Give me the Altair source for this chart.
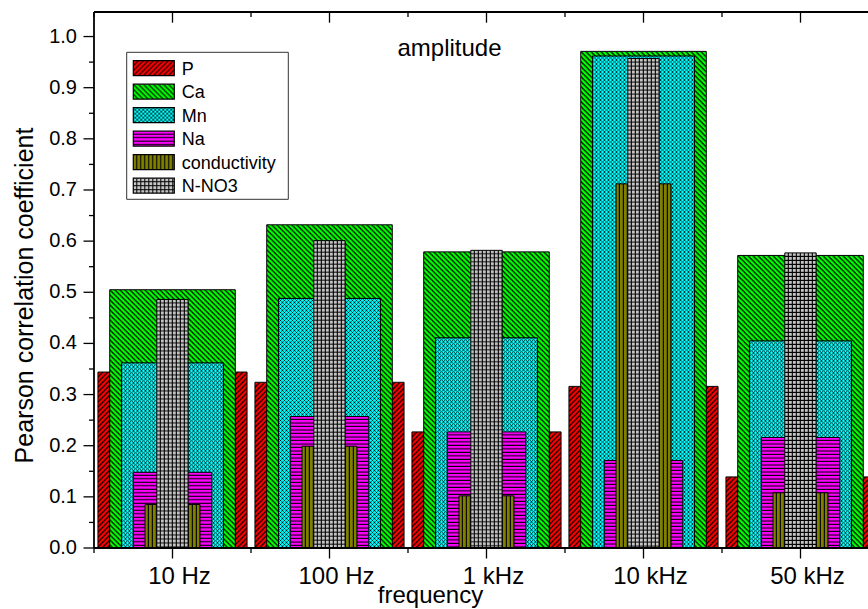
import base64
import altair as alt
import pandas as pd

# ---------------- data ----------------
categories = ["10 Hz", "100 Hz", "1 kHz", "10 kHz", "50 kHz"]
series = ["P", "Ca", "Mn", "Na", "conductivity", "N-NO3"]
P_vals = [0.344, 0.324, 0.227, 0.316, 0.139]
Ca_vals = [0.505, 0.632, 0.579, 0.971, 0.572]
Mn_vals = [0.362, 0.488, 0.411, 0.962, 0.405]
Na_vals = [0.148, 0.257, 0.227, 0.171, 0.216]
cond_vals = [0.085, 0.199, 0.102, 0.712, 0.108]
nno3_vals = [0.486, 0.601, 0.582, 0.957, 0.577]
y_ticks = [0.0, 0.1, 0.2, 0.3, 0.4, 0.5, 0.6, 0.7, 0.8, 0.9, 1.0]
y_tick_labels = ["0.0", "0.1", "0.2", "0.3", "0.4", "0.5", "0.6", "0.7", "0.8", "0.9", "1.0"]
y_minor = [0.05, 0.15, 0.25, 0.35, 0.45, 0.55, 0.65, 0.75, 0.85, 0.95]

values_by_series = dict(zip(series, [P_vals, Ca_vals, Mn_vals, Na_vals, cond_vals, nno3_vals]))
rows = []
for s in series:
    for c, v in zip(categories, values_by_series[s]):
        rows.append({"series": s, "freq": c, "value": v})
df = pd.DataFrame(rows)

# ---------------- layout / style ----------------
FONT = "Liberation Sans"
BLACK = "#000000"
W, H = 774, 536
XRANGE = 785
YMAX = 1.048

band_frac = {"P": 0.95, "Ca": 0.80, "Mn": 0.65, "Na": 0.50, "conductivity": 0.35, "N-NO3": 0.20}


def svg_uri(tile_w, tile_h, content):
    svg = (
        '<svg xmlns="http://www.w3.org/2000/svg" width="100%" height="100%">'
        f'<defs><pattern id="p" patternUnits="userSpaceOnUse" x="0" y="0" width="{tile_w}" height="{tile_h}">'
        f"{content}</pattern></defs>"
        '<rect x="0" y="0" width="100%" height="100%" fill="url(#p)"/></svg>'
    )
    return "data:image/svg+xml;base64," + base64.b64encode(svg.encode()).decode()


def hatch_slash(bg, a, lw):  # "/" lines
    return svg_uri(a, a,
        f'<rect width="{a}" height="{a}" fill="{bg}"/>'
        f'<path d="M-1,1 L1,-1 M0,{a} L{a},0 M{a-1},{a+1} L{a+1},{a-1}" stroke="#000" stroke-width="{lw}"/>')


def hatch_back(bg, a, lw):  # "\" lines
    return svg_uri(a, a,
        f'<rect width="{a}" height="{a}" fill="{bg}"/>'
        f'<path d="M-1,{a-1} L1,{a+1} M0,0 L{a},{a} M{a-1},-1 L{a+1},1" stroke="#000" stroke-width="{lw}"/>')


def hatch_cross(bg, a, lw):  # diagonal cross hatch
    return svg_uri(a, a,
        f'<rect width="{a}" height="{a}" fill="{bg}"/>'
        f'<path d="M-1,1 L1,-1 M0,{a} L{a},0 M{a-1},{a+1} L{a+1},{a-1} '
        f'M-1,{a-1} L1,{a+1} M0,0 L{a},{a} M{a-1},-1 L{a+1},1" stroke="#000" stroke-width="{lw}"/>')


def hatch_h(bg, a, lw):
    return svg_uri(8, a,
        f'<rect width="8" height="{a}" fill="{bg}"/><rect y="{a-lw}" width="8" height="{lw}" fill="#000"/>')


def hatch_v(bg, a, lw):
    return svg_uri(a, 8,
        f'<rect width="{a}" height="8" fill="{bg}"/><rect x="{a-lw}" width="{lw}" height="8" fill="#000"/>')


def hatch_grid(bg, a, lw):
    return svg_uri(a, a,
        f'<rect width="{a}" height="{a}" fill="{bg}"/>'
        f'<rect x="{a-lw}" width="{lw}" height="{a}" fill="#000"/>'
        f'<rect y="{a-lw}" width="{a}" height="{lw}" fill="#000"/>')


pattern_url = {
    "P": hatch_slash("#ff0000", 5, 1.2),
    "Ca": hatch_back("#00ff00", 5, 1.2),
    "Mn": hatch_cross("#00ffff", 4, 0.7),
    "Na": hatch_h("#ff00ff", 3.5, 1.1),
    "conductivity": hatch_v("#808000", 4, 1.1),
    "N-NO3": hatch_grid("#c4c4c4", 4, 1.0),
}

xscale = alt.Scale(domain=categories, range=[0, XRANGE], paddingInner=0, paddingOuter=0)
yscale = alt.Scale(domain=[0, YMAX], nice=False, zero=True)

layers = []
for s in series:
    sub = df[df["series"] == s]
    frac = band_frac[s]
    enc = dict(
        x=alt.X("freq:N", scale=xscale, sort=categories, axis=None),
        y=alt.Y("value:Q", scale=yscale, axis=None),
    )
    layers.append(
        alt.Chart(sub).mark_image(width=alt.RelativeBandSize(frac), aspect=False,
                                  url=pattern_url[s]).encode(**enc)
    )
    layers.append(
        alt.Chart(sub).mark_bar(width=alt.RelativeBandSize(frac), fillOpacity=0,
                                stroke=BLACK, strokeWidth=1.0).encode(**enc)
    )

cat_df = pd.DataFrame({"freq": categories})
one_df = pd.DataFrame({"a": [0]})
xcat = alt.X("freq:N", scale=xscale, sort=categories, axis=None)
xcat0 = alt.X("freq:N", scale=xscale, sort=categories, axis=None, bandPosition=0)

# frame: top line, left axis line, bottom axis line
layers.append(alt.Chart(one_df).mark_rule(stroke=BLACK, strokeWidth=1.8).encode(
    x=alt.value(0), x2=alt.value(W + 20), y=alt.value(0)))
layers.append(alt.Chart(one_df).mark_rule(stroke=BLACK, strokeWidth=1.8).encode(
    x=alt.value(0), y=alt.value(0), y2=alt.value(H)))
layers.append(alt.Chart(one_df).mark_rule(stroke=BLACK, strokeWidth=1.8).encode(
    x=alt.value(0), x2=alt.value(W + 20), y=alt.value(H)))

# x ticks (top inward, bottom outward)
layers.append(alt.Chart(cat_df).mark_rule(stroke=BLACK, strokeWidth=1.3).encode(
    x=xcat, y=alt.value(0), y2=alt.value(10.7)))
layers.append(alt.Chart(cat_df).mark_rule(stroke=BLACK, strokeWidth=1.3).encode(
    x=xcat0, y=alt.value(0), y2=alt.value(5)))
layers.append(alt.Chart(cat_df).mark_rule(stroke=BLACK, strokeWidth=1.3).encode(
    x=xcat, y=alt.value(H), y2=alt.value(H + 10.5)))
layers.append(alt.Chart(cat_df).mark_rule(stroke=BLACK, strokeWidth=1.3).encode(
    x=xcat0, y=alt.value(H), y2=alt.value(H + 5)))

# x tick labels
layers.append(alt.Chart(cat_df).mark_text(
    font=FONT, fontSize=24, color=BLACK, align="center", baseline="alphabetic", dx=7
).encode(x=xcat, y=alt.value(H + 36), text="freq:N"))

# y ticks and labels
ytick_df = pd.DataFrame({"v": y_ticks, "lab": y_tick_labels})
layers.append(alt.Chart(ytick_df).mark_rule(stroke=BLACK, strokeWidth=1.3).encode(
    y=alt.Y("v:Q", scale=yscale, axis=None), x=alt.value(-10.5), x2=alt.value(0)))
layers.append(alt.Chart(pd.DataFrame({"v": y_minor})).mark_rule(stroke=BLACK, strokeWidth=1.3).encode(
    y=alt.Y("v:Q", scale=yscale, axis=None), x=alt.value(-5), x2=alt.value(0)))
layers.append(alt.Chart(ytick_df).mark_text(
    font=FONT, fontSize=20, color=BLACK, align="right", baseline="middle"
).encode(y=alt.Y("v:Q", scale=yscale, axis=None), x=alt.value(-17), text="lab:N"))

# axis titles and annotation
layers.append(
    alt.Chart(pd.DataFrame({"t": ["Pearson correlation coefficient"]})).mark_text(
        font=FONT, fontSize=25, color=BLACK, align="center", baseline="alphabetic", angle=270
    ).encode(x=alt.value(-61.5), y=alt.value(283.5), text="t:N")
)
layers.append(
    alt.Chart(pd.DataFrame({"t": ["frequency"]})).mark_text(
        font=FONT, fontSize=24, color=BLACK, align="center", baseline="alphabetic"
    ).encode(x=alt.value(336.5), y=alt.value(591), text="t:N")
)
layers.append(
    alt.Chart(pd.DataFrame({"t": ["amplitude"]})).mark_text(
        font=FONT, fontSize=24, color=BLACK, align="center", baseline="alphabetic"
    ).encode(x=alt.value(355.5), y=alt.value(43.5), text="t:N")
)

# legend
LX0, LX1, LY0, LY1 = 32.7, 194.3, 40.3, 187.3
layers.append(
    alt.Chart(one_df).mark_rect(fill="white", stroke="#333333", strokeWidth=1).encode(
        x=alt.value(LX0), x2=alt.value(LX1), y=alt.value(LY0), y2=alt.value(LY1)
    )
)
SW_X0, SW_W, SW_H, ROW0, ROWSTEP = 39.3, 41.0, 15.0, 48.7, 23.5
for i, s in enumerate(series):
    y0 = ROW0 + ROWSTEP * i
    pos = dict(x=alt.value(SW_X0), x2=alt.value(SW_X0 + SW_W), y=alt.value(y0), y2=alt.value(y0 + SW_H))
    layers.append(alt.Chart(one_df).mark_image(aspect=False, url=pattern_url[s]).encode(**pos))
    layers.append(
        alt.Chart(one_df).mark_rect(fillOpacity=0, stroke=BLACK, strokeWidth=1.2).encode(**pos)
    )
    layers.append(
        alt.Chart(pd.DataFrame({"name": [s]})).mark_text(
            font=FONT, fontSize=18, color=BLACK, align="left", baseline="alphabetic"
        ).encode(x=alt.value(87.7), y=alt.value(y0 + 13.9), text="name:N")
    )

chart = (
    alt.layer(*layers)
    .properties(
        width=W, height=H,
        autosize=alt.AutoSizeParams(type="none"),
        padding={"left": 94, "top": 12, "right": 0, "bottom": 609 - 12 - H},
        background="white",
    )
    .configure_view(stroke=None)
)

chart.save("out.html", embed_options={"renderer": "svg", "actions": False})
